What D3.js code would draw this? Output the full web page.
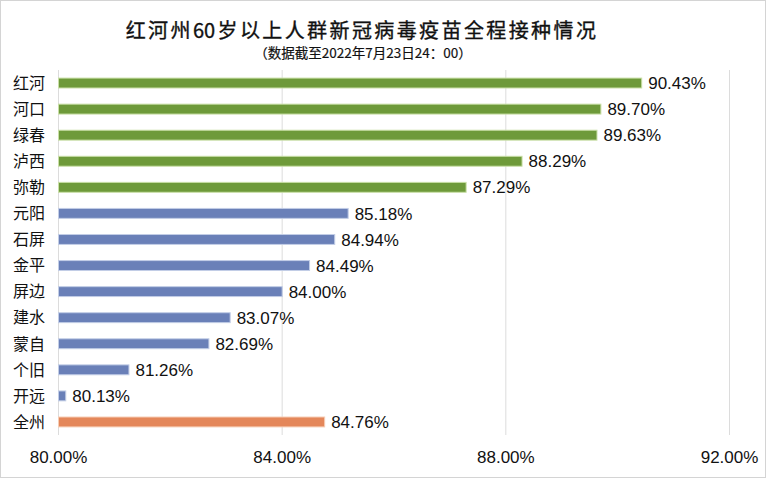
<!DOCTYPE html>
<html>
<head>
<meta charset="utf-8">
<script src="https://cdn.jsdelivr.net/npm/d3@7"></script>
<style>
  body { margin: 0; background: #fff; }
  svg { display: block; }
  .grid line { stroke: #dcdcdc; stroke-width: 1; }
  .cat { font-family: "Noto Sans CJK SC", sans-serif; font-size: 16px; fill: #111; }
  .val { font-family: "Liberation Sans", Arial, sans-serif; font-size: 17px; fill: #111; }
  .tick text { font-family: "Liberation Sans", Arial, sans-serif; font-size: 17px; fill: #111; }
</style>
</head>
<body>
<svg width="768" height="482"></svg>
<script>
const width = 768;
const height = 482;
const svg = d3.select("svg");

// data
const regions = ["红河", "河口", "绿春", "泸西", "弥勒", "元阳", "石屏", "金平", "屏边", "建水", "蒙自", "个旧", "开远", "全州"];
const rates = [90.43, 89.70, 89.63, 88.29, 87.29, 85.18, 84.94, 84.49, 84.00, 83.07, 82.69, 81.26, 80.13, 84.76];
const groups = ["high", "high", "high", "high", "high", "low", "low", "low", "low", "low", "low", "low", "low", "total"];
const xTicks = [80, 84, 88, 92];

const fillColor = { high: "#6e9a3a", low: "#6a80b8", total: "#e4875a" };
const edgeColor = { high: "#c9dfa6", low: "#c2cde6", total: "#f6cdb5" };

const margin = { top: 70, right: 39, bottom: 47, left: 58 };

const x = d3.scaleLinear()
    .domain([80, 92])
    .range([margin.left, width - margin.right]);

const y = d3.scaleBand()
    .domain(regions)
    .range([margin.top, height - margin.bottom])
    .paddingInner(0.62)
    .paddingOuter(0.31);

// outer frame
svg.append("rect")
    .attr("x", 0.5)
    .attr("y", 0.5)
    .attr("width", 765)
    .attr("height", 477)
    .attr("fill", "#fff")
    .attr("stroke", "#d4d4d4");

// title, digits kept tight
const title = svg.append("text")
    .attr("x", 362)
    .attr("y", 38)
    .attr("text-anchor", "middle")
    .style("font-family", "'Noto Sans CJK SC', sans-serif")
    .style("font-size", "20px")
    .attr("fill", "#111")
    .attr("stroke", "#111")
    .attr("stroke-width", 0.35);

[["红河州", 2.4], ["6", 0], ["0", 2.4], ["岁以上人群新冠病毒疫苗全程接种情况", 2.4]].forEach(([t, ls]) => {
    title.append("tspan").style("letter-spacing", ls + "px").text(t);
});

svg.append("text")
    .attr("x", 363)
    .attr("y", 58)
    .attr("text-anchor", "middle")
    .style("font-family", "'Noto Sans CJK SC', sans-serif")
    .style("font-size", "13.5px")
    .attr("fill", "#111")
    .attr("stroke", "#111")
    .attr("stroke-width", 0.2)
    .text("（数据截至2022年7月23日24：00）");

// vertical grid
svg.append("g")
    .attr("class", "grid")
    .selectAll("line")
    .data(xTicks)
    .join("line")
    .attr("x1", d => x(d) + 0.5)
    .attr("x2", d => x(d) + 0.5)
    .attr("y1", margin.top)
    .attr("y2", height - margin.bottom);

// x axis labels
const xAxis = d3.axisBottom(x)
    .tickValues(xTicks)
    .tickSize(0)
    .tickPadding(0)
    .tickFormat(d => d.toFixed(2) + "%");

const gx = svg.append("g")
    .attr("transform", `translate(0,${height - margin.bottom + 16})`)
    .call(xAxis);
gx.select(".domain").remove();
gx.selectAll(".tick text").attr("dy", "0.71em");

// bars
const rows = regions.map((r, i) => ({ region: r, rate: rates[i], group: groups[i] }));

svg.append("g")
    .selectAll("rect")
    .data(rows)
    .join("rect")
    .attr("x", x(80) + 0.5)
    .attr("y", d => y(d.region))
    .attr("width", d => x(d.rate) - x(80))
    .attr("height", y.bandwidth())
    .attr("fill", d => fillColor[d.group])
    .attr("stroke", d => edgeColor[d.group])
    .attr("stroke-width", 1);

// category labels
svg.append("g")
    .selectAll("text")
    .data(rows)
    .join("text")
    .attr("class", "cat")
    .attr("x", margin.left - 13)
    .attr("y", d => y(d.region) + y.bandwidth() / 2)
    .attr("dy", "0.36em")
    .attr("text-anchor", "end")
    .text(d => d.region);

// value labels
svg.append("g")
    .selectAll("text")
    .data(rows)
    .join("text")
    .attr("class", "val")
    .attr("x", d => x(d.rate) + 7)
    .attr("y", d => y(d.region) + y.bandwidth() / 2)
    .attr("dy", "0.36em")
    .text(d => d.rate.toFixed(2) + "%");
</script>
</body>
</html>
